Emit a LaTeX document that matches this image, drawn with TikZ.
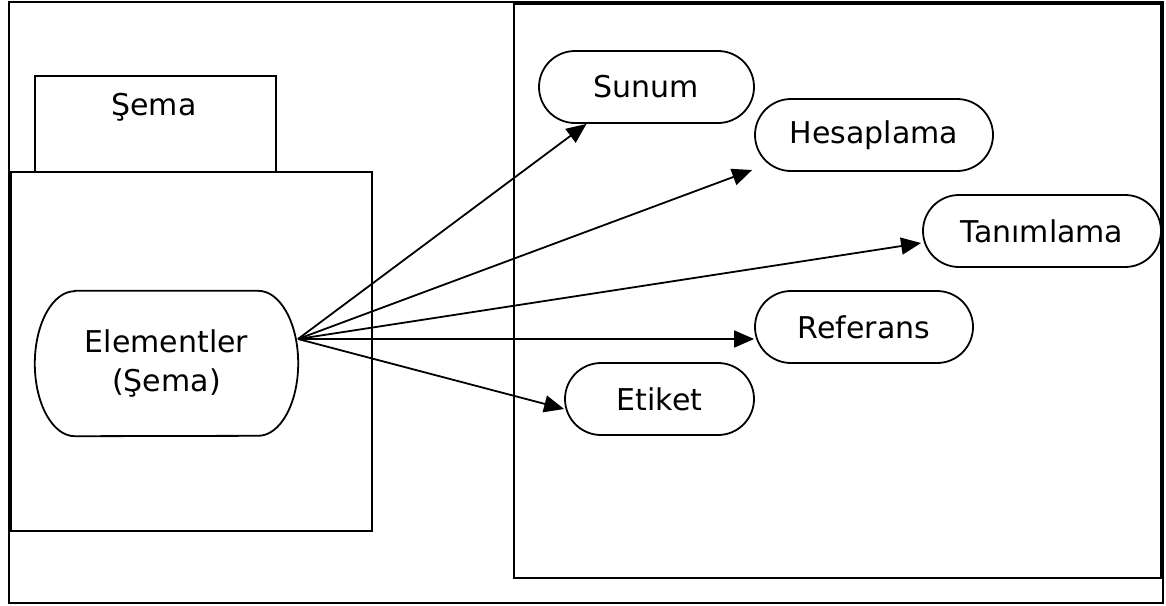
\documentclass[tikz,border=0pt]{standalone}
\usepackage{fontspec}
\setmainfont{DejaVu Sans}
\usetikzlibrary{shapes.misc,arrows.meta,calc}
\begin{document}
\begin{tikzpicture}[x=1pt,y=-1pt,
  frame/.style={draw,line width=1.8pt},
  txt/.style={font=\fontsize{30}{39}\selectfont},
  pill/.style={draw,line width=1.8pt,rounded rectangle,rounded rectangle arc length=180,inner sep=0pt,txt},
  conn/.style={line width=1.8pt,-{Triangle[length=20pt,width=17pt]}}]
\useasboundingbox (0,0) rectangle (1166,605);
% outer and container frames
\draw[frame] (9,2) rectangle (1163,603);
\draw[frame] (514,4) rectangle (1161,578);
\node[frame,minimum width=241pt,minimum height=96pt,inner sep=0pt,anchor=north west] (sema) at (34,75) {};
\node[txt] (semat) at (154,107) {Şema};
\node[frame,minimum width=361pt,minimum height=359pt,inner sep=0pt,anchor=north west] (left) at (10,171) {};
% Elementler node
\node[minimum width=263pt,minimum height=145pt,inner sep=0pt,align=center,txt] (el) at (166.5,363.5) {Elementler\\(Şema)};
\draw[line width=1.8pt] ([xshift=40pt]el.north west) -- ([xshift=-40pt]el.north east)
  arc[start angle=90,end angle=-90,x radius=40pt,y radius=72.5pt]
  -- ([xshift=40pt]el.south west)
  arc[start angle=270,end angle=90,x radius=40pt,y radius=72.5pt] -- cycle;
\coordinate (src) at (298,339);
% target nodes
\node[pill,minimum width=215pt,minimum height=72pt] (sun) at (646.5,87) {Sunum};
\node[pill,minimum width=238pt,minimum height=72pt] (hes) at (874,135) {Hesaplama};
\node[pill,minimum width=238pt,minimum height=72pt] (tan) at (1042,231) {Tanımlama};
\node[pill,minimum width=218pt,minimum height=72pt] (ref) at (864,327) {Referans};
\node[pill,minimum width=189pt,minimum height=72pt] (eti) at (659.5,399) {Etiket};
% connectors
\draw[conn] (src) -- ([xshift=-60pt]sun.south);
\draw[conn] (src) -- ($(hes.west)+(-2,35)$);
\draw[conn] (src) -- ($(tan.west)+(-1,12)$);
\draw[conn] (src) -- ($(ref.west)+(0,12)$);
\draw[conn] (src) -- ($(eti.west)+(0,10)$);
\end{tikzpicture}
\end{document}
